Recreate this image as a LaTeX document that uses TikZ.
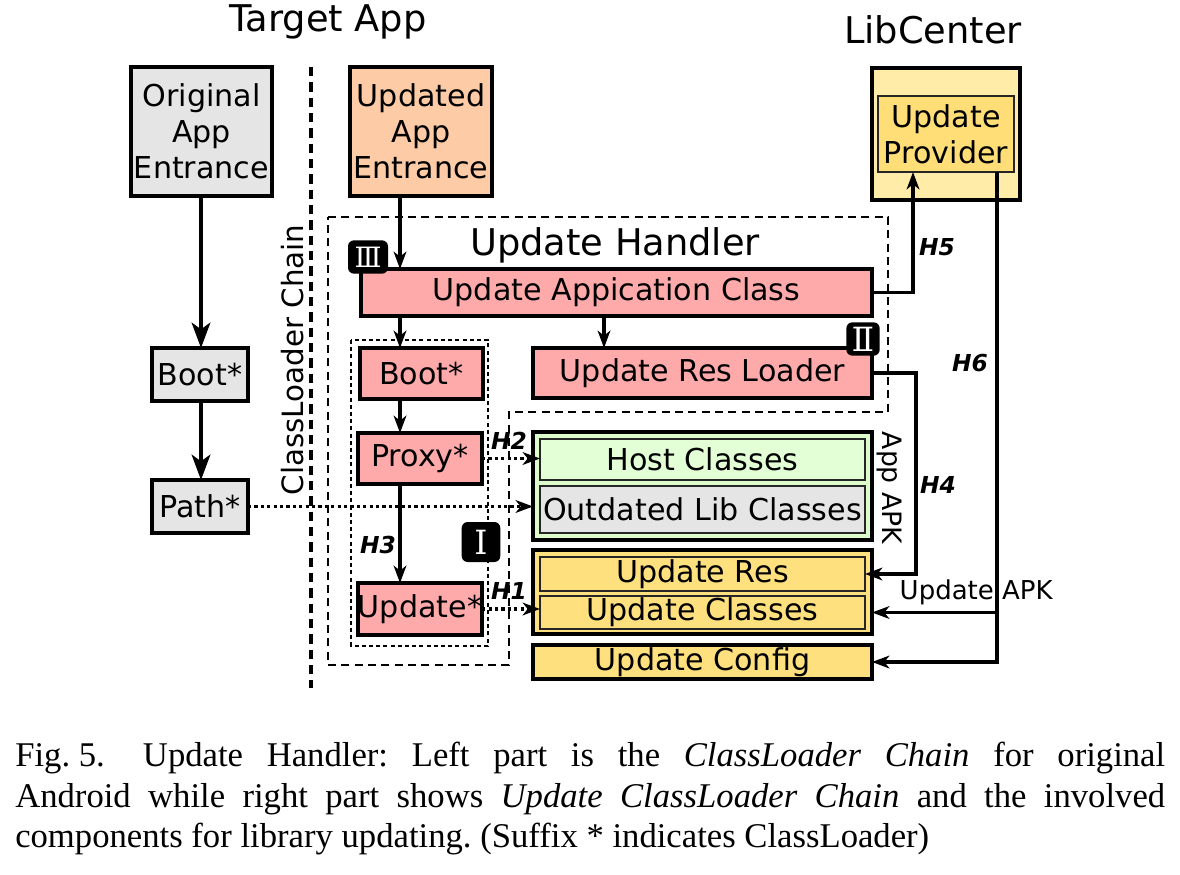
\documentclass[tikz,border=0pt]{standalone}
\usepackage{fontspec}
\setmainfont{DejaVu Sans}
\newfontfamily\capfont{Liberation Serif}
\newfontfamily\romfont{DejaVu Serif}
\usetikzlibrary{arrows.meta}
\definecolor{cgray}{HTML}{E5E5E5}
\definecolor{cpeach}{HTML}{FDCBA6}
\definecolor{cpink}{HTML}{FFAAAA}
\definecolor{cgreen}{HTML}{DDFCCC}
\definecolor{cgreenin}{HTML}{E2FFD6}
\definecolor{cyellow}{HTML}{FFE07F}
\definecolor{clyellow}{HTML}{FFECA8}
\definecolor{cprov}{HTML}{FFDD77}
% box by corners (pixel units): name, x1, y1, x2, y2, style, text
\newcommand\bx[7]{\node[#6, minimum width={(#4-#2)*0.75pt}, minimum height={(#5-#3)*0.75pt}] (#1) at ({(#2+#4)/2},{(#3+#5)/2}) {#7};}
\begin{document}
\begin{tikzpicture}[x=0.75pt,y=-0.75pt,
  box/.style={draw, line width=2.6pt, inner sep=0pt, outer sep=0pt, align=center,
    font=\fontsize{22.6}{27}\selectfont},
  ibox/.style={box, draw=black!85, line width=1.3pt},
  arr/.style={line width=2.3pt, -{Stealth[length=13pt, width=9.5pt, inset=3.8pt]}},
  bigarr/.style={line width=2.8pt, -{Stealth[length=19pt, width=14pt, inset=5pt]}},
  dotarr/.style={line width=2.4pt, dash pattern=on 2.4pt off 2.4pt, -{Stealth[length=13pt, width=9.5pt, inset=3.8pt]}},
  hlab/.style={font=\fontsize{17.5}{19}\selectfont\bfseries\itshape},
  badge/.style={fill=black, rounded corners=4.5pt, text=white, inner sep=0pt,
    font=\fontsize{25}{25}\selectfont\romfont},
  title/.style={font=\fontsize{27.6}{30}\selectfont}
]
\useasboundingbox (0,0) rectangle (1180,874);

% titles
\node[title] (ttarget) at (328,22) {Target App};
\node[title] (tlib) at (933,30) {LibCenter};

% left chain
\bx{orig}{131}{67}{272}{196}{box, fill=cgray}{Original\\App\\Entrance}
\bx{bootl}{152}{348}{248}{401}{box, fill=cgray}{Boot*}
\bx{path}{152}{480}{248}{533}{box, fill=cgray}{Path*}

% separator
\coordinate (sept) at (311,67);
\coordinate (sepb) at (311,688);
\draw[line width=2.5pt, dash pattern=on 7pt off 4.5pt] (sept) -- (sepb);
\node[rotate=90, font=\fontsize{22}{24}\selectfont] (clc) at (293,360) {ClassLoader Chain};

% update handler outline
\coordinate (u1) at (328,217);
\coordinate (u2) at (888,217);
\coordinate (u3) at (888,412);
\coordinate (u4) at (509,412);
\coordinate (u5) at (509,665);
\coordinate (u6) at (328,665);
\draw[line width=1.3pt, dash pattern=on 6pt off 4pt] (u1) -- (u2) -- (u3) -- (u4) -- (u5) -- (u6) -- cycle;
\node[title] (uh) at (615,245) {Update Handler};

% inner dotted box
\coordinate (d1) at (351,340);
\coordinate (d2) at (488,646);
\draw[line width=1.2pt, dash pattern=on 3pt off 2.4pt] (d1) rectangle (d2);

% right chain
\bx{upent}{350}{67}{492}{196}{box, fill=cpeach}{Updated\\App\\Entrance}
\bx{uac}{361}{269}{872}{316}{box, fill=cpink}{Update Appication Class}
\bx{resl}{533}{348}{872}{398}{box, fill=cpink}{Update Res Loader}
\bx{bootr}{360}{348}{483}{399}{box, fill=cpink}{Boot*}
\bx{proxy}{358}{433}{482}{484}{box, fill=cpink}{Proxy*}
\bx{upd}{358}{583}{482}{635}{box, fill=cpink}{Update*}

% LibCenter
\bx{lib}{872}{68}{1020}{200}{box, fill=clyellow}{}
\bx{prov}{878}{96}{1014}{172}{ibox, fill=cprov}{Update\\Provider}

% App APK
\bx{appapk}{533}{432}{872}{540}{box, fill=cgreen}{}
\bx{host}{540}{439}{865}{480}{ibox, fill=cgreenin}{Host Classes}
\bx{outd}{540}{486}{865}{533}{ibox, fill=cgray}{Outdated Lib Classes}
\node[rotate=-90, font=\fontsize{20}{22}\selectfont] (appapkl) at (889,488) {App APK};

% Update APK
\bx{apk}{533}{550}{872}{634}{box, fill=cyellow}{}
\bx{ures}{540}{557}{865}{591}{ibox, fill=cyellow}{Update Res}
\bx{ucls}{540}{596}{865}{629}{ibox, fill=cyellow}{Update Classes}
\bx{ucfg}{533}{645}{872}{679}{box, fill=cyellow}{Update Config}
\node[anchor=west, font=\fontsize{19.5}{22}\selectfont] (apkl) at (895,592) {Update APK};

% badges
\node[badge, minimum width=30pt, minimum height=25pt, font=\fontsize{21}{21}\selectfont\romfont] (b3) at (368,257) {Ⅲ};
\node[badge, minimum width=25pt, minimum height=25pt] (b2) at (863,339) {Ⅱ};
\node[badge, minimum width=29pt, minimum height=30pt] (b1) at (481,542) {Ⅰ};

% arrows left chain
\coordinate (xl) at (201,0);
\draw[bigarr] (orig.south -| xl) -- (bootl.north -| xl);
\draw[bigarr] (bootl.south -| xl) -- (path.north -| xl);
\draw[dotarr] (path.east) -- (path.east -| appapk.west);

% arrows right chain
\coordinate (xr) at (400,0);
\coordinate (xm) at (604,0);
\draw[arr] (upent.south -| xr) -- (uac.north -| xr);
\draw[arr] (uac.south -| xr) -- (bootr.north -| xr);
\draw[arr] (uac.south -| xm) -- (resl.north -| xm);
\draw[arr] (bootr.south -| xr) -- (proxy.north -| xr);
\draw[arr] (proxy.south -| xr) -- (upd.north -| xr);
\draw[dotarr] (proxy.east) -- (proxy.east -| host.west);
\draw[dotarr] (upd.east) -- (upd.east -| ucls.west);

% H5
\coordinate (h5) at (913,172);
\draw[arr] (uac.east) -| (h5);
% H4
\coordinate (h4) at (916,0);
\draw[arr] (resl.east) -- (resl.east -| h4) |- (ures.east);
% H6
\coordinate (h6) at (997,172);
\draw[arr] (h6) |- (ucfg.east);
\draw[arr] (ucls.east -| h6) -- (ucls.east -| apk.east);

% labels
\node[hlab] (lh1) at (509,591) {H1};
\node[hlab] (lh2) at (509,441) {H2};
\node[hlab] (lh3) at (378,545) {H3};
\node[hlab] (lh4) at (938,485) {H4};
\node[hlab] (lh5) at (937,247) {H5};
\node[hlab] (lh6) at (970,363) {H6};

% caption
\node[anchor=north west, inner sep=0pt, text width=862.5pt, align=justify,
  font=\capfont\fontsize{26}{30.4}\selectfont\frenchspacing] (cap) at (15,742)
  {\mbox{Fig. 5.}\hspace{1.1em}Update Handler: Left part is the \textit{ClassLoader Chain} for original\linebreak
   Android while right part shows \textit{Update ClassLoader Chain} and the involved\linebreak
   components for library updating. (Suffix * indicates ClassLoader)};
\end{tikzpicture}
\end{document}
